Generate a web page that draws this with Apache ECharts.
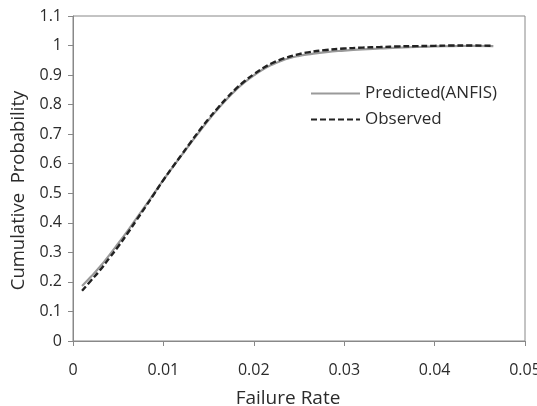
<!DOCTYPE html>
<html>
<head>
<meta charset="utf-8">
<script src="https://cdn.jsdelivr.net/npm/echarts@6/dist/echarts.min.js"></script>
<style>
  html, body { margin: 0; padding: 0; background: #fff; }
  #chart { width: 537px; height: 406px; }
</style>
</head>
<body>
<div id="chart"></div>
<script>
// failure rate (x) and cumulative probability
const rates = [0.001, 0.002, 0.003, 0.004, 0.005, 0.006, 0.007, 0.008, 0.009, 0.010,
    0.011, 0.012, 0.013, 0.014, 0.015, 0.016, 0.017, 0.018, 0.019, 0.020,
    0.021, 0.022, 0.023, 0.024, 0.025, 0.026, 0.028, 0.030, 0.032, 0.034,
    0.036, 0.038, 0.040, 0.042, 0.044, 0.0465];
const observed = [0.170, 0.205, 0.240, 0.280, 0.320, 0.363, 0.408, 0.453, 0.499, 0.545,
    0.588, 0.630, 0.672, 0.713, 0.752, 0.788, 0.822, 0.853, 0.880, 0.903,
    0.923, 0.940, 0.953, 0.963, 0.971, 0.977, 0.985, 0.990, 0.993, 0.995,
    0.997, 0.998, 0.999, 1.000, 1.000, 0.999];
const predicted = [0.186, 0.218, 0.252, 0.290, 0.330, 0.371, 0.414, 0.457, 0.501, 0.545,
    0.587, 0.628, 0.669, 0.709, 0.748, 0.784, 0.818, 0.849, 0.876, 0.899,
    0.919, 0.935, 0.948, 0.958, 0.965, 0.970, 0.978, 0.983, 0.987, 0.990,
    0.993, 0.995, 0.997, 0.998, 0.999, 0.998];
const xTicks = [0, 0.01, 0.02, 0.03, 0.04, 0.05];
const yTicks = [0, 0.1, 0.2, 0.3, 0.4, 0.5, 0.6, 0.7, 0.8, 0.9, 1, 1.1];

const font = "'Open Sans', sans-serif";
const axisGray = "#888";
const textColor = "#2b2b2b";

const chart = echarts.init(document.getElementById("chart"), null, { renderer: "canvas" });

const option = {
    animation: false,
    grid: {
        left: 73,
        right: 12,
        top: 16,
        bottom: 65,
        outerBoundsMode: "none",
        show: true,
        borderColor: axisGray,
        borderWidth: 1,
    },
    legend: {
        orient: "vertical",
        left: 305,
        top: 80,
        itemWidth: 49,
        itemHeight: 14,
        itemGap: 9,
        itemStyle: { opacity: 0 },
        textStyle: { fontFamily: font, fontSize: 17, color: textColor },
        data: ["Predicted(ANFIS)", "Observed"],
    },
    xAxis: {
        type: "value",
        min: xTicks[0],
        max: xTicks[xTicks.length - 1],
        interval: 0.01,
        name: "Failure Rate",
        nameLocation: "middle",
        nameGap: 48,
        nameTextStyle: { fontFamily: font, fontSize: 19, color: textColor, padding: [0, 22, 0, 0] },
        axisLine: { lineStyle: { color: axisGray, width: 1 } },
        axisTick: { show: true, length: 5, lineStyle: { color: axisGray } },
        axisLabel: {
            fontFamily: font, fontSize: 16, color: textColor, margin: 21,
            formatter: v => (v === 0 ? "0" : v.toFixed(2)),
        },
        splitLine: { show: false },
    },
    yAxis: {
        type: "value",
        min: yTicks[0],
        max: yTicks[yTicks.length - 1],
        interval: 0.1,
        name: "Cumulative  Probability",
        nameLocation: "middle",
        nameGap: 44,
        nameTextStyle: { fontFamily: font, fontSize: 18.5, color: textColor, padding: [0, 24, 0, 0] },
        axisLine: { show: true, lineStyle: { color: axisGray, width: 1 } },
        axisTick: { show: true, length: 5, lineStyle: { color: axisGray } },
        axisLabel: {
            fontFamily: font, fontSize: 16, color: textColor, margin: 11,
            formatter: v => String(Math.round(v * 10) / 10),
        },
        splitLine: { show: false },
    },
    series: [
        {
            name: "Predicted(ANFIS)",
            type: "line",
            smooth: true,
            symbol: "none",
            lineStyle: { color: "#9a9a9a", width: 2.2, type: "solid" },
            itemStyle: { color: "#9a9a9a" },
            data: rates.map((r, i) => [r, predicted[i]]),
        },
        {
            name: "Observed",
            type: "line",
            smooth: true,
            symbol: "none",
            lineStyle: { color: "#222", width: 2.4, type: [6, 3] },
            itemStyle: { color: "#222" },
            data: rates.map((r, i) => [r, observed[i]]),
        },
    ],
};

chart.setOption(option);
</script>
</body>
</html>
